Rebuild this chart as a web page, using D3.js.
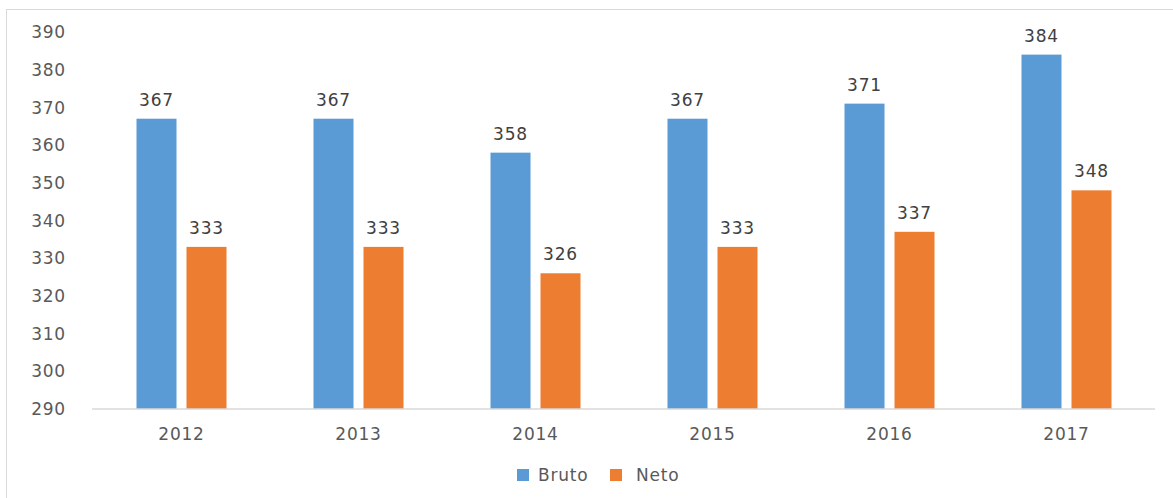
<!DOCTYPE html>
<html><head><meta charset="utf-8">
<script src="https://cdn.jsdelivr.net/npm/d3@7"></script>
<style>body{margin:0;background:#fff}svg{display:block}text{font-family:"DejaVu Sans",sans-serif}</style>
</head><body><svg id="c" width="1173" height="498"></svg>
<script>
const years = ["2012","2013","2014","2015","2016","2017"];
const bruto = [367,367,358,367,371,384];
const neto = [333,333,326,333,337,348];
const seriesNames = ["Bruto","Neto"];
const colors = ["#5b9bd5","#ed7d31"];
const yTicks = [290,300,310,320,330,340,350,360,370,380,390];

const svg = d3.select("#c");
svg.append("rect").attr("x",6.5).attr("y",9.5).attr("width",1175).attr("height",500)
  .attr("fill","none").attr("stroke","#d9d9d9");

const x0 = d3.scaleBand().domain(years).range([93,1155]).paddingInner(0).paddingOuter(0);
const y = d3.scaleLinear().domain([290,390]).range([409,32]);
const x1 = d3.scaleBand().domain(seriesNames).range([0,90]).paddingInner(0.2).paddingOuter(0);
const fs = "17px", ls = "0.8px";

// y labels
svg.append("g").selectAll("text").data(yTicks).join("text")
  .attr("x",66).attr("y",d=>y(d)).attr("dy","0.36em").attr("text-anchor","end")
  .attr("fill","#595959").style("font-size",fs).style("letter-spacing",ls).text(d=>d);

const data = years.map((yr,i)=>({year:yr, vals:[bruto[i],neto[i]]}));
const g = svg.append("g");
data.forEach(d=>{
  const off = x0(d.year) + (x0.bandwidth()-90)/2;
  d.vals.forEach((v,j)=>{
    const bx = off + x1(seriesNames[j]);
    g.append("rect").attr("x",bx).attr("y",y(v)).attr("width",x1.bandwidth()).attr("height",y(290)-y(v))
      .attr("fill",colors[j]);
    g.append("text").attr("x",bx+x1.bandwidth()/2).attr("y",y(v)-13).attr("text-anchor","middle")
      .attr("fill","#404040").style("font-size",fs).style("letter-spacing",ls).text(v);
  });
});

// x axis
svg.append("line").attr("x1",92).attr("x2",1155).attr("y1",409).attr("y2",409)
  .attr("stroke","#d9d9d9").attr("stroke-width",1.5);
svg.append("g").selectAll("text").data(years).join("text")
  .attr("x",d=>x0(d)+x0.bandwidth()/2).attr("y",440).attr("text-anchor","middle")
  .attr("fill","#595959").style("font-size",fs).style("letter-spacing",ls).text(d=>d);

// legend
const legX = [517,610];
seriesNames.forEach((n,i)=>{
  svg.append("rect").attr("x",legX[i]).attr("y",469).attr("width",12).attr("height",12).attr("fill",colors[i]);
  svg.append("text").attr("x",legX[i]+(i===0?21:26)).attr("y",481).attr("fill","#595959")
    .style("font-size",fs).style("letter-spacing",ls).text(n);
});
</script></body></html>
